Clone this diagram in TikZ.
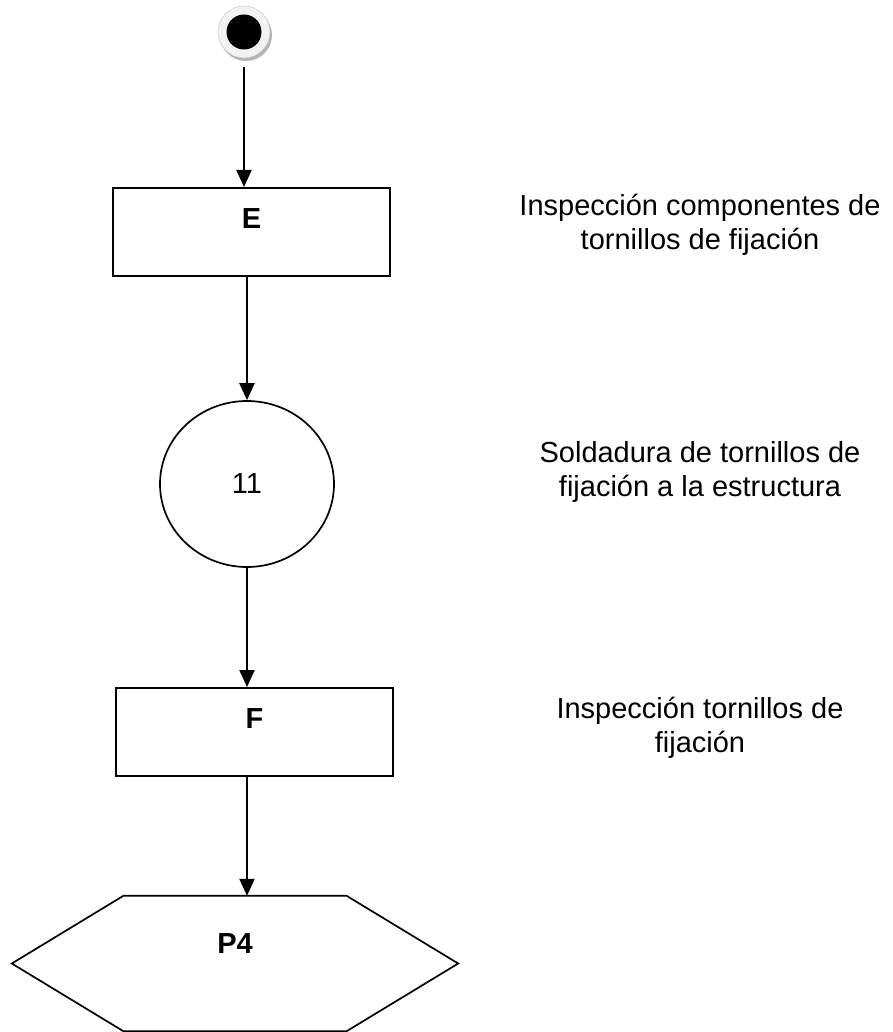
\documentclass[tikz,border=0pt]{standalone}
\usepackage{fontspec}
\setmainfont{Liberation Sans}
\usetikzlibrary{shapes.geometric,shadows,calc,arrows.meta}
\definecolor{ringgray}{HTML}{F2F2F2}
\definecolor{shadowgray}{HTML}{B4B4B4}

\begin{document}
\begin{tikzpicture}[
    x=1pt, y=-1pt,
    every node/.style={font=\fontsize{29}{34}\selectfont},
    start node/.style={circle, minimum size=52pt, inner sep=0pt, fill=ringgray, draw=ringgray!80!black, thin,
      drop shadow={shadow xshift=2pt, shadow yshift=-3pt, fill=shadowgray, opacity=1},
      path picture={\fill[black] (path picture bounding box.center) circle (17.5pt);}},
    rect node/.style={rectangle, draw, line width=2pt, minimum width=277pt, minimum height=88pt, inner sep=0pt,
      font=\fontsize{29}{34}\selectfont\bfseries, text height=21pt, text depth=28pt},
    op node/.style={ellipse, draw, line width=1.7pt, minimum width=174pt, minimum height=166pt, inner sep=0pt},
    hex node/.style={minimum width=446pt, minimum height=135pt, inner sep=0pt,
      font=\fontsize{29}{34}\selectfont\bfseries, text height=21pt, text depth=42pt},
    note node/.style={align=center, inner sep=0pt},
    flow/.style={draw, line width=2.2pt, -{Triangle[length=17pt,width=15pt]}}
  ]
  \useasboundingbox (0,0) rectangle (892,1032);

  % chart
  \node[start node] (start) at (244,32) {};
  \node[rect node] (e) at (251.5,232) {E};
  \node[op node] (c) at (247,484) {11};
  \node[rect node] (f) at (254.5,732) {F};
  \node[hex node] (p4) at (235,963.5) {P4};
  \draw[line width=1.7pt] (p4.west) -- ($(p4.north west)!.25!(p4.north east)$) -- ($(p4.north west)!.75!(p4.north east)$)
    -- (p4.east) -- ($(p4.south west)!.75!(p4.south east)$) -- ($(p4.south west)!.25!(p4.south east)$) -- cycle;

  % descriptions
  \node[note node] (ne) at (700,225) {Inspección componentes de\\tornillos de fijación};
  \node[note node] (nc) at (700,472) {Soldadura de tornillos de\\fijación a la estructura};
  \node[note node] (nf) at (700,728) {Inspección tornillos de\\fijación};

  % arrows
  \draw[flow, shorten <=9pt] (start.south) -- (start |- e.north);
  \draw[flow] (c |- e.south) -- (c.north);
  \draw[flow] (c.south) -- (c.south |- f.north);
  \draw[flow] (c.south |- f.south) -- (c.south |- p4.north);
\end{tikzpicture}
\end{document}
